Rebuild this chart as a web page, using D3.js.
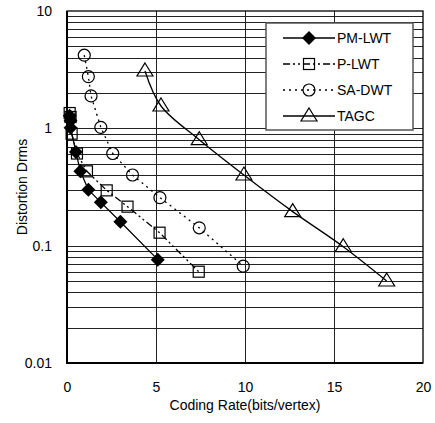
<!DOCTYPE html>
<html>
<head>
<meta charset="utf-8">
<script src="https://cdn.jsdelivr.net/npm/d3@7"></script>
<style>
  body { margin: 0; background: #fff; }
  text { font-family: "Liberation Sans", Arial, sans-serif; fill: #000; }
</style>
</head>
<body>
<div id="canvas"></div>
<script>
// values
const seriesNames = ['PM-LWT', 'P-LWT', 'SA-DWT', 'TAGC']

const pmRate = [0.15, 0.2, 0.2, 0.5, 0.75, 1.2, 1.9, 3.0, 5.1]
const pmDist = [1.28, 1.16, 1.01, 0.63, 0.43, 0.30, 0.234, 0.16, 0.076]

const pRate = [0.15, 0.2, 0.26, 0.56, 1.12, 2.23, 3.4, 5.2, 7.4]
const pDist = [1.35, 1.25, 0.9, 0.61, 0.43, 0.296, 0.215, 0.129, 0.06]

const saRate = [0.97, 1.2, 1.35, 1.9, 2.57, 3.68, 5.22, 7.43, 9.9]
const saDist = [4.2, 2.76, 1.89, 1.02, 0.61, 0.40, 0.257, 0.142, 0.067]

const tagcRate = [4.38, 5.28, 7.43, 9.94, 12.68, 15.52, 17.96]
const tagcDist = [3.08, 1.55, 0.80, 0.40, 0.195, 0.098, 0.050]

const xTicks = [0, 5, 10, 15, 20]
const yTicks = [0.01, 0.1, 1, 10]

const width = 435
const height = 423
const margin = { top: 11, right: 12, bottom: 60, left: 67 }

const svg = d3.select('#canvas')
  .append('svg')
    .attr('width', width)
    .attr('height', height)

const x = d3.scaleLinear()
  .domain([0, 20])
  .range([margin.left, width - margin.right])

const y = d3.scaleLog()
  .domain([0.01, 10])
  .range([height - margin.bottom, margin.top])

// grid
const minor = []
for (let e = -2; e < 1; e++) {
  for (let m = 2; m <= 9; m++) minor.push(m * Math.pow(10, e))
}
svg.append('g')
  .selectAll('line')
  .data(minor.concat([0.1, 1]))
  .join('line')
    .attr('x1', x(0))
    .attr('x2', x(20))
    .attr('y1', d => Math.round(y(d)) + 0.5)
    .attr('y2', d => Math.round(y(d)) + 0.5)
    .attr('stroke', '#222')
    .attr('stroke-width', 1)

svg.append('g')
  .selectAll('line')
  .data([5, 10, 15])
  .join('line')
    .attr('x1', d => Math.round(x(d)) + 0.5)
    .attr('x2', d => Math.round(x(d)) + 0.5)
    .attr('y1', y(10))
    .attr('y2', y(0.01))
    .attr('stroke', '#222')
    .attr('stroke-width', 1)

// frame
svg.append('rect')
  .attr('x', x(0))
  .attr('y', y(10))
  .attr('width', x(20) - x(0))
  .attr('height', y(0.01) - y(10))
  .attr('fill', 'none')
  .attr('stroke', '#000')
  .attr('stroke-width', 1.3)
svg.append('path')
  .attr('d', `M${x(0)},${y(10)}V${y(0.01)}H${x(20)}`)
  .attr('fill', 'none')
  .attr('stroke', '#000')
  .attr('stroke-width', 2)

// axes (labels only)
const xAxis = svg.append('g')
  .attr('transform', `translate(0, ${y(0.01)})`)
  .call(d3.axisBottom(x).tickValues(xTicks).tickSize(0).tickPadding(19))
xAxis.select('.domain').remove()
xAxis.selectAll('text').attr('font-size', '14px').style('font-family', '"Liberation Sans", Arial, sans-serif')

const yAxis = svg.append('g')
  .attr('transform', `translate(${x(0)}, 0)`)
  .call(d3.axisLeft(y).tickValues(yTicks).tickFormat(d3.format('~g')).tickSize(0).tickPadding(15))
yAxis.select('.domain').remove()
yAxis.selectAll('text').attr('font-size', '14px').style('font-family', '"Liberation Sans", Arial, sans-serif')

svg.append('text')
  .attr('x', 245)
  .attr('y', 410)
  .attr('text-anchor', 'middle')
  .attr('font-size', '14px')
  .text('Coding Rate(bits/vertex)')

svg.append('text')
  .attr('transform', 'translate(27, 187) rotate(-90)')
  .attr('text-anchor', 'middle')
  .attr('font-size', '14px')
  .text('Distortion Drms')

// series
const series = [
  { name: seriesNames[0], rate: pmRate, dist: pmDist, dash: null, curve: d3.curveLinear, marker: 'diamond' },
  { name: seriesNames[1], rate: pRate, dist: pDist, dash: '7,3,2,3,2,3', curve: d3.curveLinear, marker: 'square' },
  { name: seriesNames[2], rate: saRate, dist: saDist, dash: '2,4', curve: d3.curveLinear, marker: 'circle' },
  { name: seriesNames[3], rate: tagcRate, dist: tagcDist, dash: null, curve: d3.curveCatmullRom, marker: 'triangle' }
]

function drawMarker(g, type, cx, cy) {
  if (type === 'diamond') {
    g.append('path')
      .attr('d', `M${cx},${cy - 7}L${cx + 7},${cy}L${cx},${cy + 7}L${cx - 7},${cy}Z`)
      .attr('fill', '#000')
  } else if (type === 'square') {
    g.append('rect')
      .attr('x', cx - 5.5).attr('y', cy - 5.5)
      .attr('width', 11).attr('height', 11)
      .attr('fill', 'none').attr('stroke', '#000').attr('stroke-width', 1.2)
  } else if (type === 'circle') {
    g.append('circle')
      .attr('cx', cx).attr('cy', cy).attr('r', 6)
      .attr('fill', 'none').attr('stroke', '#000').attr('stroke-width', 1.2)
  } else {
    g.append('path')
      .attr('d', `M${cx},${cy - 8}L${cx + 8},${cy + 5}L${cx - 8},${cy + 5}Z`)
      .attr('fill', 'none').attr('stroke', '#000').attr('stroke-width', 1.2)
  }
}

series.forEach(s => {
  const pts = s.rate.map((r, i) => [x(r), y(s.dist[i])])
  svg.append('path')
    .attr('d', d3.line().curve(s.curve)(pts))
    .attr('fill', 'none')
    .attr('stroke', '#000')
    .attr('stroke-width', 1.3)
    .attr('stroke-dasharray', s.dash)
  const g = svg.append('g')
  pts.forEach(p => drawMarker(g, s.marker, p[0], p[1]))
})

// legend
const legend = svg.append('g')
legend.append('rect')
  .attr('x', 266).attr('y', 23)
  .attr('width', 147).attr('height', 107)
  .attr('fill', '#fff')
  .attr('stroke', '#555')
  .attr('stroke-width', 1.5)

series.forEach((s, i) => {
  const ly = 38 + i * 26
  legend.append('line')
    .attr('x1', 283).attr('x2', 335)
    .attr('y1', ly).attr('y2', ly)
    .attr('stroke', '#000')
    .attr('stroke-width', 1.3)
    .attr('stroke-dasharray', s.dash)
  drawMarker(legend, s.marker, 309, ly)
  legend.append('text')
    .attr('x', 337)
    .attr('y', ly)
    .attr('dy', '0.35em')
    .attr('font-size', '14px')
    .text(s.name)
})
</script>
</body>
</html>
